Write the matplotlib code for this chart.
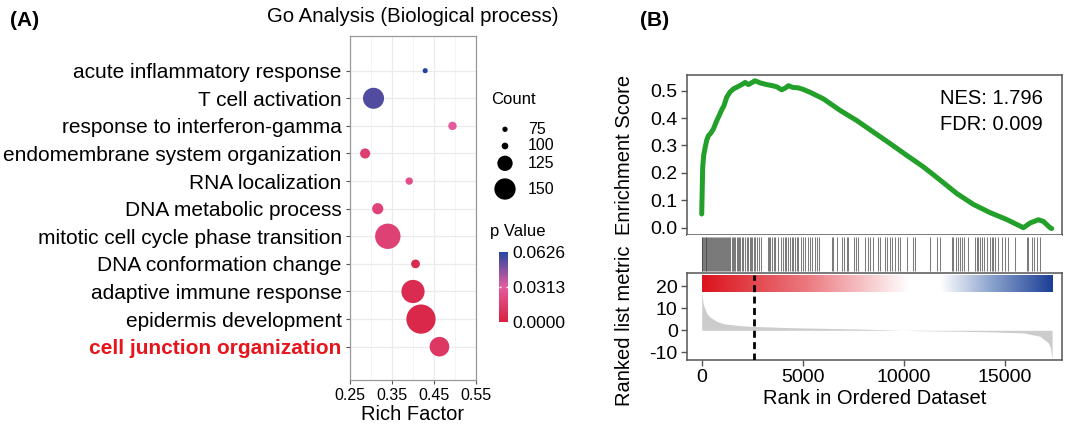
import numpy as np
import matplotlib
matplotlib.use("Agg")
import matplotlib.pyplot as plt
from matplotlib.colors import LinearSegmentedColormap, Normalize
from matplotlib.cm import ScalarMappable

plt.rcParams['font.family'] = ['Liberation Sans', 'DejaVu Sans']

# ---------------- data: panel A ----------------
terms = ["acute inflammatory response", "T cell activation", "response to interferon-gamma",
         "endomembrane system organization", "RNA localization", "DNA metabolic process",
         "mitotic cell cycle phase transition", "DNA conformation change",
         "adaptive immune response", "epidermis development", "cell junction organization"]
rich_factor = [0.429, 0.306, 0.494, 0.286, 0.391, 0.316, 0.340, 0.406, 0.400, 0.419, 0.463]
counts = [72, 149, 105, 110, 102, 113, 167, 106, 158, 183, 143]
pvalues = [0.0626, 0.055, 0.030, 0.016, 0.024, 0.018, 0.017, 0.005, 0.006, 0.004, 0.012]
x_ticks_a = [0.25, 0.35, 0.45, 0.55]
count_legend = [75, 100, 125, 150]
p_ticks = [0.0, 0.0313, 0.0626]

# ---------------- data: panel B ----------------
es_rank = [0, 20, 49, 100, 163, 250, 330, 450, 577, 742, 900, 989, 1100, 1236, 1400, 1566,
           1800, 1978, 2150, 2308, 2450, 2638, 2900, 3215, 3500, 3710, 3957, 4150, 4287,
           4500, 4781, 5000, 5358, 6018, 6842, 7666, 8490, 9315, 10139, 10963, 11788,
           12612, 13436, 14260, 15084, 15909, 16238, 16650, 16897, 17227, 17310]
es_value = [0.05, 0.12, 0.22, 0.265, 0.29, 0.32, 0.335, 0.345, 0.36, 0.39, 0.415, 0.43,
            0.445, 0.476, 0.495, 0.506, 0.515, 0.522, 0.53, 0.522, 0.528, 0.536, 0.528,
            0.522, 0.518, 0.514, 0.503, 0.51, 0.518, 0.512, 0.51, 0.505, 0.494, 0.47,
            0.428, 0.391, 0.349, 0.307, 0.264, 0.222, 0.174, 0.125, 0.085, 0.055, 0.03,
            0.0, 0.017, 0.029, 0.023, 0.0, -0.003]
hit_ranks = [10, 31, 70, 114, 155, 196, 230, 262, 310, 361, 410, 460, 520, 575, 615, 658,
             700, 740, 800, 855, 900, 954, 1010, 1070, 1110, 1152, 1200, 1251, 1310, 1366,
             1420, 1482, 1550, 1614, 1670, 1729, 1790, 1845, 1910, 1976, 2060, 2141, 2220,
             2306, 2389, 2450, 2504, 2603, 2660, 2718, 2834, 2950, 3262, 3320, 3378, 3493,
             3560, 3625, 3790, 3900, 4037, 4120, 4190, 4251, 4367, 4449, 4530, 4614, 4700,
             4779, 4911, 5010, 5109, 5241, 5340, 5438, 5603, 5686, 5801, 6427, 6510, 6675,
             6922, 7054, 7169, 7252, 7548, 7614, 7746, 8076, 8208, 8323, 8488, 8702, 8818,
             9065, 9147, 9312, 9428, 9559, 9691, 9807, 10136, 10466, 10549, 11290, 11620,
             11786, 12364, 12443, 12562, 12690, 12780, 12859, 12972, 13185, 13516, 13600,
             13679, 13760, 13847, 13976, 14095, 14258, 14340, 14421, 14505, 14669, 14837,
             15000, 15163, 15494, 16073, 16152, 16320, 16449, 16568, 16731]
metric_rank = [0, 82, 247, 412, 742, 1072, 1896, 2720, 4368, 6017, 7665, 9973, 10962,
               12610, 14258, 15906, 16731, 17142, 17250, 17307, 17330]
metric_value = [17.4, 11.6, 7.8, 6.0, 4.1, 3.0, 2.1, 1.7, 1.2, 0.9, 0.6, 0.0, -0.2,
                -0.4, -0.7, -1.2, -2.7, -5.7, -8.0, -11.7, -12.5]
n_genes = 17330
peak_rank = 2600
rank_ticks = [0, 5000, 10000, 15000]
es_ticks = [0.0, 0.1, 0.2, 0.3, 0.4, 0.5]
metric_ticks = [-10, 0, 10, 20]
nes_text = "NES: 1.796"
fdr_text = "FDR: 0.009"

# ---------------- figure ----------------
W, H = 1068, 429
fig = plt.figure(figsize=(W / 100, H / 100), dpi=100)


def px_axes(x0, y0, x1, y1, **kw):
    return fig.add_axes([x0 / W, 1 - y1 / H, (x1 - x0) / W, (y1 - y0) / H], **kw)


def diam_px(c):
    return np.interp(c, [50, 75, 100, 125, 150, 200], [4.0, 5.3, 6.7, 15.3, 21.3, 33.3])


def size_pt2(c):
    return (diam_px(np.asarray(c)) * 0.72) ** 2


# overlay for legend items
ov = px_axes(0, 0, W, H)
ov.set_xlim(0, W)
ov.set_ylim(H, 0)
ov.axis('off')

# ---------------- panel A ----------------
cmap_p = LinearSegmentedColormap.from_list("pv", [(0.0, "#D8213F"), (0.5, "#E45C9F"), (1.0, "#2347A0")])
norm_p = Normalize(0, 0.0626)

axA = px_axes(350, 36, 476, 380)
ypos = np.arange(len(terms))[::-1]
axA.set_axisbelow(True)
axA.scatter(rich_factor, ypos, s=size_pt2(counts), c=pvalues, cmap=cmap_p, norm=norm_p,
            edgecolors='none', zorder=3)
axA.set_xlim(0.25, 0.55)
axA.set_ylim(-1.207, 11.257)
axA.set_xticks(x_ticks_a)
axA.set_xticks([0.30, 0.40, 0.50], minor=True)
axA.set_xticklabels([f"{v:.2f}" for v in x_ticks_a], fontsize=11.5)
axA.set_yticks(ypos)
axA.set_yticklabels(terms, fontsize=15)
for lab in axA.get_yticklabels():
    if lab.get_text() == "cell junction organization":
        lab.set_color("#E8141B")
        lab.set_fontweight("bold")
axA.grid(True, which='major', color='#EBEBEB', lw=0.9)
axA.grid(True, which='minor', axis='x', color='#F3F3F3', lw=0.6)
axA.tick_params(axis='both', which='major', length=3, color='#555555', width=0.8, pad=3)
axA.tick_params(axis='x', which='minor', length=0)
for s in axA.spines.values():
    s.set_color('#999999')
    s.set_linewidth(0.9)
axA.set_xlabel("Rich Factor", fontsize=14.5, labelpad=1)

fig.text(413 / W, 1 - 17 / H, "Go Analysis (Biological process)", ha='center', va='center', fontsize=14.7)
fig.text(10 / W, 1 - 20 / H, "(A)", ha='left', va='center', fontsize=15, fontweight='bold')
fig.text(640 / W, 1 - 20 / H, "(B)", ha='left', va='center', fontsize=15, fontweight='bold')

# count legend
fig.text(491 / W, 1 - 100 / H, "Count", ha='left', va='center', fontsize=12)
leg_y = [129.3, 146, 163.3, 189]
ov.scatter([505] * len(count_legend), leg_y, s=size_pt2(count_legend), c='black', edgecolors='none')
for c, yy in zip(count_legend, leg_y):
    ov.text(527.7, yy, str(c), ha='left', va='center', fontsize=11.5)

# p value colorbar
fig.text(490 / W, 1 - 231.7 / H, "p Value", ha='left', va='center', fontsize=12)
cax = px_axes(499, 251.7, 508.3, 321.7)
cb = fig.colorbar(ScalarMappable(norm=norm_p, cmap=cmap_p), cax=cax)
cb.outline.set_visible(False)
cb.set_ticks(p_ticks)
cb.set_ticklabels([f"{v:.4f}" for v in p_ticks])
cax.tick_params(length=0, labelsize=12.5, pad=3)
cax.hlines(0.0313, 0, 0.22, color='white', lw=1)
cax.hlines(0.0313, 0.78, 1, color='white', lw=1)

# ---------------- panel B ----------------
xl = (-742, 17819)
ax1 = px_axes(686.7, 75, 1062, 235)
ax2 = px_axes(686.7, 235, 1062, 273.3)
ax3 = px_axes(686.7, 273.3, 1062, 360)

ax1.plot(es_rank, es_value, color='#22A02A', lw=3.6, solid_capstyle='round', solid_joinstyle='round')
ax1.set_xlim(*xl)
ax1.set_ylim(-0.0266, 0.557)
ax1.set_xticks([])
ax1.set_yticks(es_ticks)
ax1.set_yticklabels([f"{v:.1f}" for v in es_ticks], fontsize=14)
ax1.set_ylabel("Enrichment Score", fontsize=14.5, labelpad=6)
ax1.text(0.949, 0.856, nes_text, transform=ax1.transAxes, ha='right', va='center', fontsize=14.5)
ax1.text(0.949, 0.6875, fdr_text, transform=ax1.transAxes, ha='right', va='center', fontsize=14.5)

ax2.vlines(hit_ranks, 0.05, 0.95, color='#444444', lw=0.75, alpha=0.7)
ax2.set_xlim(*xl)
ax2.set_ylim(0, 1)
ax2.set_xticks([])
ax2.set_yticks([])
for s in ax2.spines.values():
    s.set_visible(False)

grad = np.linspace(0, 1, 512)[None, :]
cmap_r = LinearSegmentedColormap.from_list("rb", [(0.0, "#DC141E"), (0.30, "#EB7A80"),
                                                  (0.59, "#FFFFFF"), (0.68, "#FFFFFF"),
                                                  (0.82, "#8FA6CF"), (1.0, "#1C3F95")])
ax3.imshow(grad, extent=[0, n_genes, 17.6, 25.1], aspect='auto', cmap=cmap_r, zorder=1)
ax3.fill_between(metric_rank, metric_value, 0, color='#CCCCCC', lw=0, zorder=2)
ax3.vlines(peak_rank, -13.5, 25.1, color='black', lw=2, linestyles=(0, (2.5, 1.6)), zorder=3)
ax3.set_xlim(*xl)
ax3.set_ylim(-13.5, 25.9)
ax3.set_yticks(metric_ticks)
ax3.set_yticklabels([str(v) for v in metric_ticks], fontsize=14)
ax3.set_xticks(rank_ticks)
ax3.set_xticklabels([str(v) for v in rank_ticks], fontsize=14)
ax3.set_xlabel("Rank in Ordered Dataset", fontsize=14.5, labelpad=2)
ax3.set_ylabel("Ranked list metric", fontsize=14.5, labelpad=2)

for ax in (ax1, ax3):
    for s in ax.spines.values():
        s.set_color('#555555')
        s.set_linewidth(1.1)
    ax.tick_params(direction='out', length=4.5, width=1, color='#555555', pad=2)

# align the two y labels
ax1.yaxis.set_label_coords(-0.14, 0.5)
ax3.yaxis.set_label_coords(-0.14, 0.4)

fig.savefig("out.png", dpi=100)
